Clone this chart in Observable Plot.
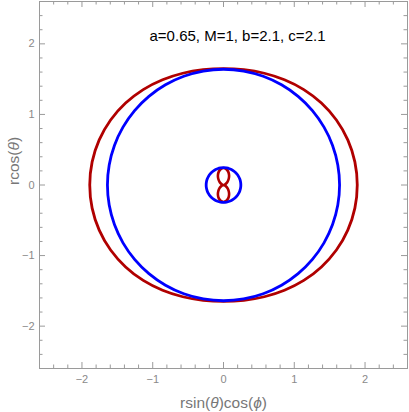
<!DOCTYPE html>
<html><head><meta charset="utf-8">
<script src="https://cdn.jsdelivr.net/npm/d3@7"></script>
<script src="https://cdn.jsdelivr.net/npm/@observablehq/plot@0.6"></script>
<style>body{margin:0;background:#fff;} #chart svg{display:block;}</style>
</head><body><div id="chart"></div>
<script>
const title = "a=0.65, M=1, b=2.1, c=2.1";
const xLabel = "rsin(θ)cos(ϕ)";
const yLabel = "rcos(θ)";
const majorTicks = [-2, -1, 0, 1, 2];
const minorTicks = [-2.4, -2.2, -1.8, -1.6, -1.4, -1.2, -0.8, -0.6, -0.4, -0.2,
                    0.2, 0.4, 0.6, 0.8, 1.2, 1.4, 1.6, 1.8, 2.2, 2.4];
const thetaDeg = [0,10,20,30,40,50,60,70,80,90,100,110,120,130,140,150,160,170,
                  180,190,200,210,220,230,240,250,260,270,280,290,300,310,320,330,340,350];
// outer ergosurface radius (red)
const ergoOuterR = [1.65,1.659,1.685,1.722,1.765,1.806,1.842,1.869,1.885,1.89,
                    1.885,1.869,1.842,1.806,1.765,1.722,1.685,1.659,1.65,
                    1.659,1.685,1.722,1.765,1.806,1.842,1.869,1.885,1.89,
                    1.885,1.869,1.842,1.806,1.765,1.722,1.685,1.659];
// inner ergosurface radius (red figure eight)
const ergoInnerR = [0.24,0.228,0.198,0.158,0.115,0.076,0.043,0.019,0.005,0,
                    0.005,0.019,0.043,0.076,0.115,0.158,0.198,0.228,0.24,
                    0.228,0.198,0.158,0.115,0.076,0.043,0.019,0.005,0,
                    0.005,0.019,0.043,0.076,0.115,0.158,0.198,0.228];
const horizonOuterR = 1.64;  // blue
const horizonInnerR = 0.245; // blue
const domain = [-2.6, 2.6];

const W = 409, H = 412, ml = 39, mr = 2, mt = 1, mb = 44;
const innerW = W - ml - mr, innerH = H - mt - mb;

function curve(name, radii) {
  return thetaDeg.map((t, i) => {
    const r = Array.isArray(radii) ? radii[i] : radii;
    const a = t * Math.PI / 180;
    return {name, x: r * Math.sin(a), y: r * Math.cos(a)};
  });
}
const red = "#b00000", blue = "#0000ff", frameCol = "#9a9a9a", labCol = "#8a8a8a";
const fmt = d => d < 0 ? "\u2212" + (-d) : String(d);
const font = "Liberation Sans, Arial, sans-serif";

const chart = Plot.plot({
  width: W, height: H,
  marginLeft: ml, marginRight: mr, marginTop: mt, marginBottom: mb,
  style: {fontFamily: font, background: "#fff"},
  x: {domain, label: null},
  y: {domain, label: null},
  marks: [
    Plot.line(curve("ergoOuter", ergoOuterR), {x: "x", y: "y", stroke: red, strokeWidth: 2.8, curve: "catmull-rom-closed"}),
    Plot.line(curve("ergoInner", ergoInnerR), {x: "x", y: "y", stroke: red, strokeWidth: 2.6, curve: "catmull-rom-closed"}),
    Plot.line(curve("horizonOuter", horizonOuterR), {x: "x", y: "y", stroke: blue, strokeWidth: 2.8, curve: "catmull-rom-closed"}),
    Plot.line(curve("horizonInner", horizonInnerR), {x: "x", y: "y", stroke: blue, strokeWidth: 2.8, curve: "catmull-rom-closed"}),
    Plot.frame({stroke: frameCol}),
    // inward ticks on all four sides
    Plot.tickX(majorTicks, {x: d => d, insetTop: innerH - 6, stroke: frameCol}),
    Plot.tickX(minorTicks, {x: d => d, insetTop: innerH - 3.5, stroke: frameCol}),
    Plot.tickX(majorTicks, {x: d => d, insetBottom: innerH - 6, stroke: frameCol}),
    Plot.tickX(minorTicks, {x: d => d, insetBottom: innerH - 3.5, stroke: frameCol}),
    Plot.tickY(majorTicks, {y: d => d, insetRight: innerW - 6, stroke: frameCol}),
    Plot.tickY(minorTicks, {y: d => d, insetRight: innerW - 3.5, stroke: frameCol}),
    Plot.tickY(majorTicks, {y: d => d, insetLeft: innerW - 6, stroke: frameCol}),
    Plot.tickY(minorTicks, {y: d => d, insetLeft: innerW - 3.5, stroke: frameCol}),
    Plot.axisX({ticks: majorTicks, anchor: "bottom", tickSize: 0, tickPadding: 7, tickFormat: fmt, label: null, fill: labCol, fontSize: 11}),
    Plot.axisY({ticks: majorTicks, anchor: "left", tickSize: 0, tickPadding: 5, tickFormat: fmt, label: null, fill: labCol, fontSize: 11}),
    Plot.text([title], {text: d => d, frameAnchor: "top", dx: 14, dy: 35, fontSize: 15, fill: "#000", lineAnchor: "middle"}),
    Plot.text([xLabel], {text: d => d, frameAnchor: "bottom", dy: 35, fontSize: 15.5, fill: "#777", lineAnchor: "middle"}),
    Plot.text([yLabel], {text: d => d, frameAnchor: "left", dx: -25, rotate: -90, fontSize: 15.5, fill: "#777", lineAnchor: "middle"})
  ]
});
document.getElementById("chart").appendChild(chart);

// italicize Greek letters in axis labels
d3.select(chart).selectAll("text").each(function() {
  const t = this.textContent;
  if (t === xLabel || t === yLabel) {
    const el = d3.select(this);
    el.selectAll("*").remove();
    el.text(null);
    for (const ch of t) {
      const ts = el.append("tspan").text(ch);
      if (ch === "θ" || ch === "ϕ") ts.attr("font-style", "italic");
    }
  }
});
</script>
</body></html>
